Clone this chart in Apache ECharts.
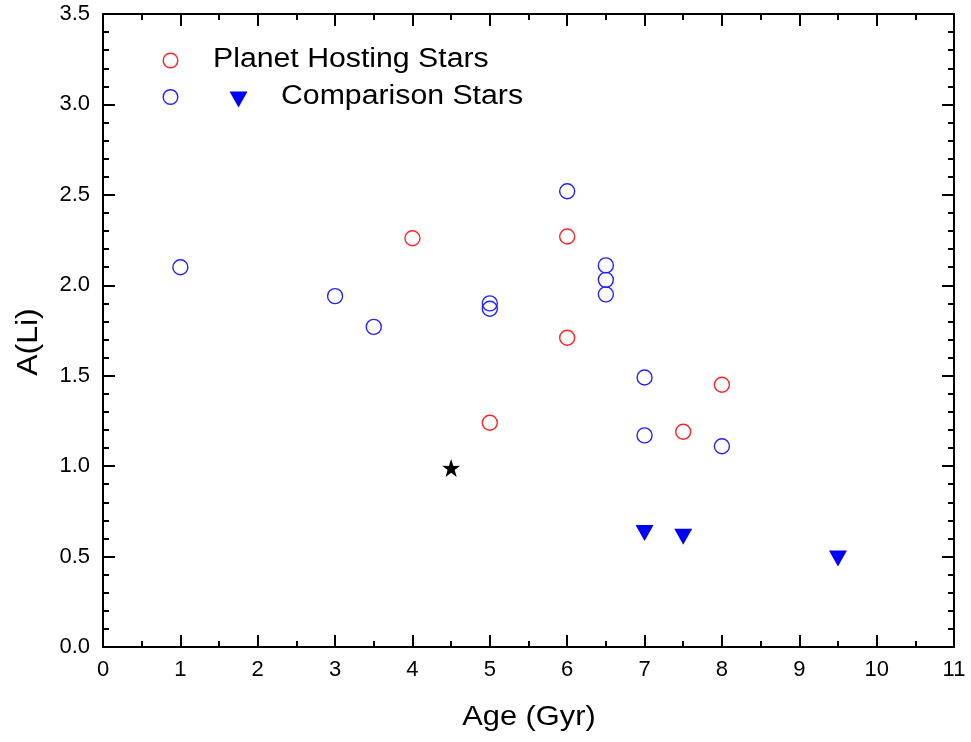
<!DOCTYPE html>
<html><head><meta charset="utf-8">
<script src="https://cdn.jsdelivr.net/npm/echarts@6/dist/echarts.min.js"></script>
<style>html,body{margin:0;padding:0;background:#fff}#c{width:971px;height:742px}</style>
</head><body><div id="c"></div>
<script>
const planetHosting = [[4,2.26],[6,2.27],[6,1.71],[5,1.24],[7.5,1.19],[8,1.45]];
const comparison = [[1,2.10],[3,1.94],[3.5,1.77],[5,1.90],[5,1.87],[6,2.52],[6.5,2.11],[6.5,2.03],[6.5,1.95],[7,1.49],[7,1.17],[8,1.11]];
const comparisonUpper = [[7,0.63],[7.5,0.61],[9.5,0.49]];
const sun = [[4.5,0.99]];
const xTicks = [0,1,2,3,4,5,6,7,8,9,10,11];
const yTicks = [0.0,0.5,1.0,1.5,2.0,2.5,3.0,3.5];
const xTitle = 'Age (Gyr)';
const yTitle = 'A(Li)';
const legendNames = ['Planet Hosting Stars','Comparison Stars'];

const starPath = 'path://M50,0 L61.8,35.1 L97.6,34.5 L68.8,55.9 L79.4,90.5 L50,69.5 L20.6,90.5 L31.2,55.9 L2.4,34.5 L38.2,35.1 Z';
const RED = '#ff2222', BLUE = '#2222ff';
const font = 'Liberation Sans';

function axis(extra, split){
  return Object.assign({
    type:'value',
    axisLine:{show:true,onZero:false,lineStyle:{color:'#000',width:2}},
    axisTick:{show:true,inside:true,length:12,lineStyle:{color:'#000',width:2}},
    minorTick:{show:true,splitNumber:split,length:6,lineStyle:{color:'#000',width:2}},
    splitLine:{show:false}
  }, extra);
}
const chart = echarts.init(document.getElementById('c'));
chart.setOption({
  animation:false,
  grid:{left:103,right:17,top:14,bottom:95},
  xAxis:[
    axis({min:0,max:11,interval:1,position:'bottom',
      axisLabel:{fontSize:22,fontFamily:font,color:'#000',margin:12,
        formatter:v=>xTicks.includes(v)?String(v):''}},2),
    axis({min:0,max:11,interval:1,position:'top',axisLabel:{show:false}},2)
  ],
  yAxis:[
    axis({min:0,max:3.5,interval:0.5,position:'left',
      axisLabel:{fontSize:22,fontFamily:font,color:'#000',margin:13,
        formatter:v=>yTicks.includes(+v.toFixed(1))?v.toFixed(1):''}},5),
    axis({min:0,max:3.5,interval:0.5,position:'right',axisLabel:{show:false}},5)
  ],
  series:[
    {name:legendNames[0],type:'scatter',data:planetHosting,symbol:'circle',symbolSize:15,
      itemStyle:{color:'rgba(0,0,0,0)',borderColor:RED,borderWidth:1.4,opacity:1}},
    {name:legendNames[1],type:'scatter',data:comparison,symbol:'circle',symbolSize:15,
      itemStyle:{color:'rgba(0,0,0,0)',borderColor:BLUE,borderWidth:1.4,opacity:1}},
    {name:'Comparison Stars (upper limits)',type:'scatter',data:comparisonUpper,symbol:'triangle',symbolRotate:180,symbolSize:[18,16],
      itemStyle:{color:'#0000ff',opacity:1}},
    {name:'Sun',type:'scatter',data:sun,symbol:starPath,symbolSize:18,itemStyle:{color:'#000',opacity:1}}
  ],
  graphic:[
    {type:'circle',shape:{cx:170.5,cy:60.5,r:7.3},style:{fill:'none',stroke:RED,lineWidth:1.4}},
    {type:'text',x:213,y:60,scaleX:1.12,style:{text:legendNames[0],x:0,y:0,verticalAlign:'middle',fontSize:27,fontFamily:font,fill:'#000'}},
    {type:'circle',shape:{cx:170.5,cy:97,r:7.3},style:{fill:'none',stroke:BLUE,lineWidth:1.4}},
    {type:'polygon',shape:{points:[[229.5,91.5],[247.5,91.5],[238.5,107.5]]},style:{fill:'#0000ff'}},
    {type:'text',x:281,y:97,scaleX:1.12,style:{text:legendNames[1],x:0,y:0,verticalAlign:'middle',fontSize:27,fontFamily:font,fill:'#000'}},
    {type:'text',x:529,y:717,scaleX:1.1,style:{text:xTitle,x:0,y:0,align:'center',verticalAlign:'middle',fontSize:28,fontFamily:font,fill:'#000'}},
    {type:'text',x:29,y:342,rotation:Math.PI/2,scaleX:1.1,style:{text:yTitle,x:0,y:0,align:'center',verticalAlign:'middle',fontSize:29,fontFamily:font,fill:'#000'}}
  ]
});
</script></body></html>
